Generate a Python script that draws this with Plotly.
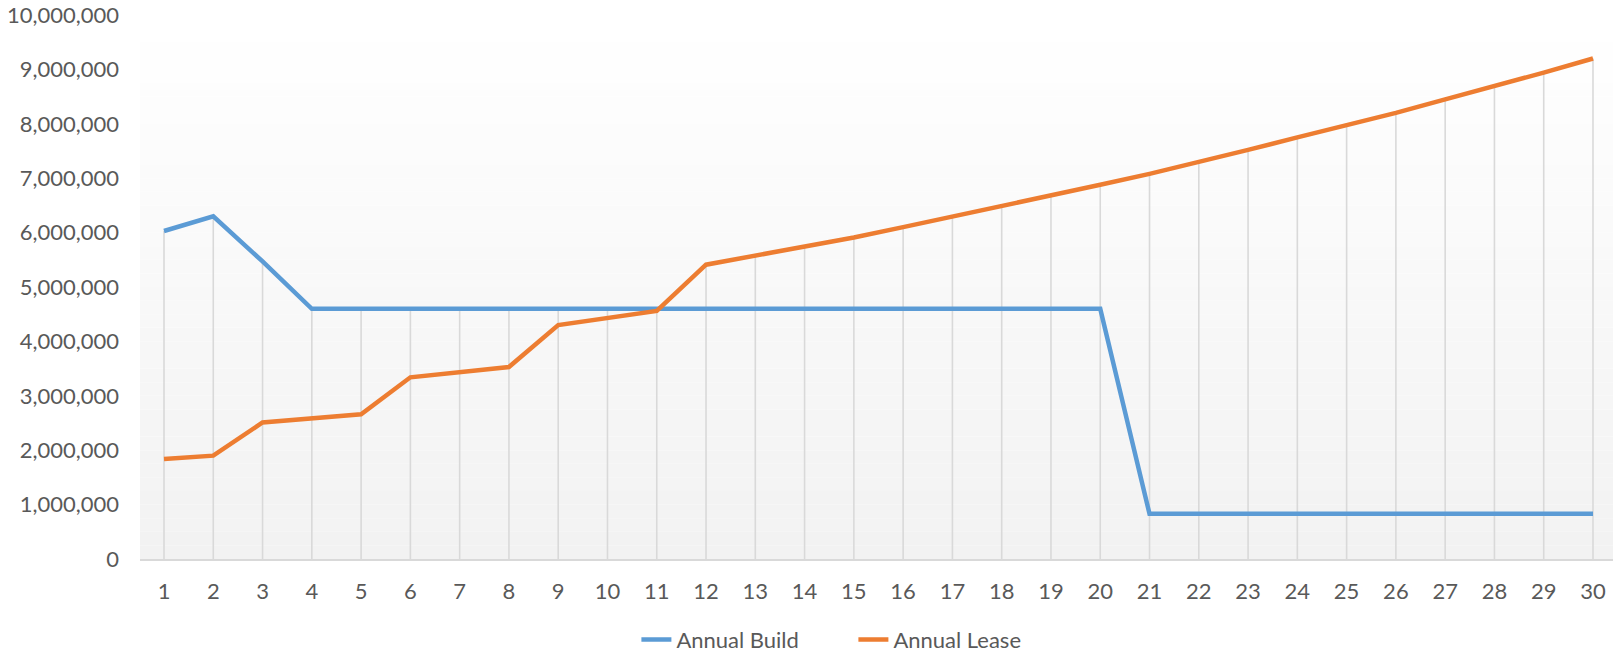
import plotly.graph_objects as go

years = list(range(1, 31))
annual_build = [6030000, 6300000, 5470000] + [4600000] * 17 + [830000] * 10
annual_lease = [1840000, 1900000, 2510000, 2585000, 2660000, 3340000, 3440000, 3530000,
                4300000, 4430000, 4560000, 5410000, 5570000, 5740000, 5910000, 6100000,
                6290000, 6480000, 6680000, 6880000, 7080000, 7290000, 7520000, 7750000,
                7970000, 8200000, 8450000, 8690000, 8940000, 9200000]
y_ticks = list(range(0, 10000001, 1000000))

BLUE = "#5B9BD5"
ORANGE = "#ED7D31"
GRID = "#D9D9D9"
TEXT = "#595959"
FONT = "Lato, 'Open Sans', sans-serif"

# drop lines from the highest series value down to the axis
drop_x, drop_y = [], []
for x, b, l in zip(years, annual_build, annual_lease):
    drop_x += [x, x, None]
    drop_y += [0, max(b, l), None]

fig = go.Figure()
fig.add_trace(go.Scatter(x=drop_x, y=drop_y, mode="lines",
                         line=dict(color=GRID, width=1.6),
                         showlegend=False, hoverinfo="skip"))
fig.add_trace(go.Scatter(x=years, y=annual_build, mode="lines", name="Annual Build",
                         line=dict(color=BLUE, width=4.5)))
fig.add_trace(go.Scatter(x=years, y=annual_lease, mode="lines", name="Annual Lease",
                         line=dict(color=ORANGE, width=4.5)))

# plot-area gradient background (white at top to light grey at bottom)
n = 40
shapes = []
for i in range(n):
    t = (i + 0.5) / n
    c = round(255 - 13 * (1 - t))
    shapes.append(dict(type="rect", xref="paper", yref="paper",
                       x0=0, x1=1, y0=i / n, y1=(i + 1) / n,
                       fillcolor=f"rgb({c},{c},{c})", line=dict(width=0),
                       layer="below"))

fig.update_layout(
    width=1613, height=654,
    margin=dict(l=140, r=0, t=15, b=95, autoexpand=False),
    paper_bgcolor="white", plot_bgcolor="rgba(0,0,0,0)",
    font=dict(family=FONT, size=22, color=TEXT),
    shapes=shapes,
    showlegend=True,
    legend=dict(orientation="h", x=0.337, xanchor="left", y=-0.187, yanchor="bottom",
                font=dict(family=FONT, size=22, color=TEXT),
                entrywidth=172, entrywidthmode="pixels", borderwidth=0,
                bgcolor="rgba(0,0,0,0)", traceorder="normal"),
    xaxis=dict(range=[0.513, 30.406], tickmode="array", tickvals=years,
               ticktext=[str(v) for v in years], showgrid=False, zeroline=False,
               showline=True, linecolor=GRID, linewidth=1.6, ticks="",
               ticklabelstandoff=12, tickfont=dict(family=FONT, size=22, color=TEXT)),
    yaxis=dict(range=[0, 10000000], tickmode="array", tickvals=y_ticks,
               tickformat=",", showgrid=False, zeroline=False, showline=False,
               ticks="", ticklabelstandoff=20,
               tickfont=dict(family=FONT, size=22, color=TEXT)),
)

fig.write_html("out.html")
